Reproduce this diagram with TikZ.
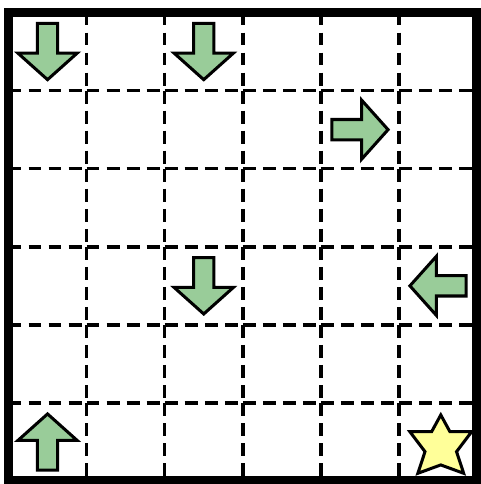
\documentclass[tikz,border=0pt]{standalone}
\usepackage{tikz}
\definecolor{arrowgreen}{RGB}{153,204,153}
\definecolor{staryellow}{RGB}{255,255,153}

\begin{document}
\begin{tikzpicture}[
    frame/.style={line width=3.45pt},
    gridline/.style={line width=1.3pt, dash pattern=on 4.7pt off 2.6pt},
    arrowfill/.style={line width=1.1pt, fill=arrowgreen},
    starfill/.style={line width=1.1pt, fill=staryellow}]
  \useasboundingbox (-0.1088,-0.0371) rectangle (6.0499,6.1600);
  \foreach \i in {1,...,5}
    \foreach \j in {0,...,5} {
      \draw[gridline] (\i,\j+1) -- (\i,\j);
      \draw[gridline] (\j,\i) -- (\j+1,\i);
    }
  \foreach \cx/\cy/\ang in {0.5/5.5/-90, 2.5/5.5/-90, 4.5/4.5/0,
                            2.5/2.5/-90, 5.5/2.5/180, 0.5/0.5/90}
    \draw[arrowfill, shift={(\cx,\cy)}, rotate=\ang]
      (-0.36,-0.13) -- (0.02,-0.13) -- (0.02,-0.38) -- (0.36,0)
      -- (0.02,0.38) -- (0.02,0.13) -- (-0.36,0.13) -- cycle;
  \draw[starfill, shift={(5.535,0.437)}] (0,0.410) -- (0.117,0.196)
    -- (0.396,0.196) -- (0.202,-0.060) -- (0.293,-0.337) -- (0,-0.230)
    -- (-0.293,-0.337) -- (-0.202,-0.060) -- (-0.396,0.196)
    -- (-0.117,0.196) -- cycle;
  \draw[frame] (0,0) rectangle (6,6);
\end{tikzpicture}
\end{document}
